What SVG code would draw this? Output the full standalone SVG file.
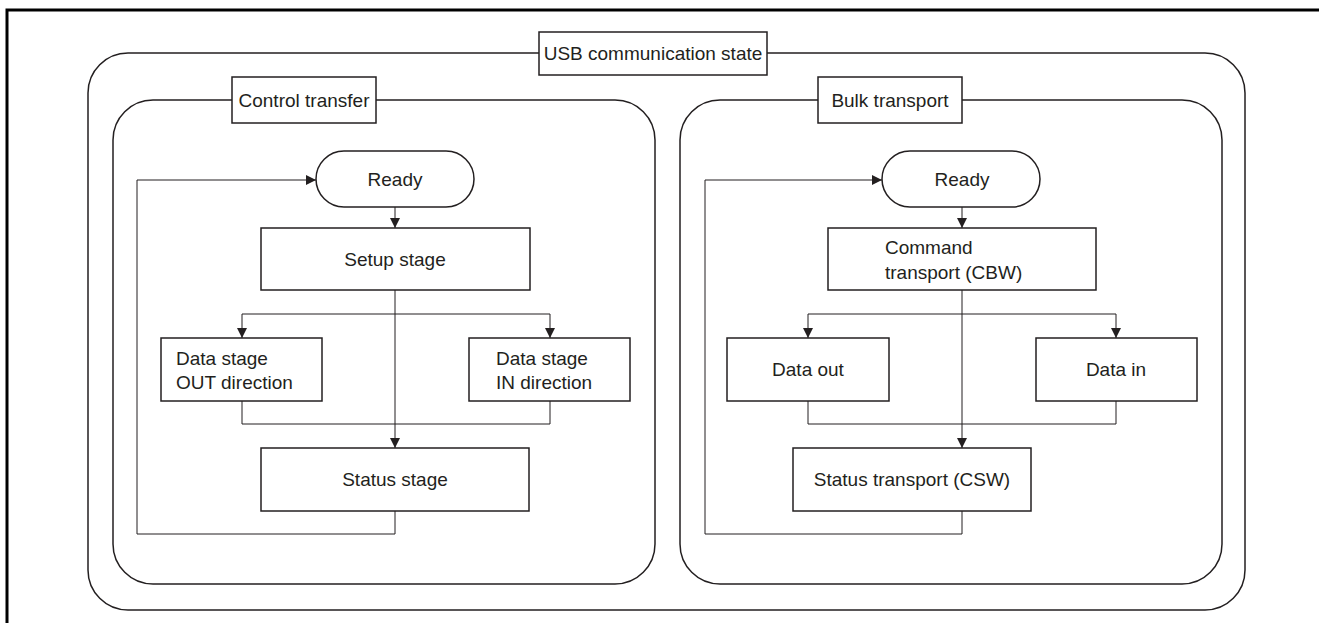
<svg xmlns="http://www.w3.org/2000/svg" width="1319" height="623" viewBox="0 0 1319 623">
<defs>
<style>
.frame{fill:none;stroke:#000;stroke-width:3}
.cont{fill:none;stroke:#231f20;stroke-width:1.5}
.box{fill:#fff;stroke:#231f20;stroke-width:1.5}
.ln{fill:none;stroke:#231f20;stroke-width:1}
.t{font-family:"Liberation Sans",Arial,sans-serif;font-size:19px;fill:#231f20}
.c{text-anchor:middle}
</style>
<marker id="ah" viewBox="0 0 10 10" refX="10" refY="5" markerWidth="10" markerHeight="10" markerUnits="userSpaceOnUse" orient="auto">
<path d="M0,0 L10,5 L0,10 z" fill="#231f20"/>
</marker>
</defs>
<rect width="1319" height="623" fill="#fff"/>
<g id="frame">
<path class="frame" d="M7,623 V10 H1319"/>
</g>
<g id="usb-state">
<rect class="cont" x="88" y="53" width="1157" height="557" rx="40" ry="40"/>
<rect class="box" x="539" y="32" width="228" height="43"/>
<text class="t c" x="653" y="60">USB communication state</text>
</g>
<g id="control-transfer">
<rect class="cont" x="113" y="100" width="542" height="484" rx="40" ry="40"/>
<rect class="box" x="232" y="77" width="144" height="46"/>
<text class="t c" x="304" y="107">Control transfer</text>
</g>
<g id="bulk-transport">
<rect class="cont" x="680" y="100" width="542" height="484" rx="40" ry="40"/>
<rect class="box" x="818" y="77" width="144" height="46"/>
<text class="t c" x="890" y="107">Bulk transport</text>
</g>
<g id="connectors">
<path class="ln" d="M395,207 V228" marker-end="url(#ah)"/>
<path class="ln" d="M395,290 V448" marker-end="url(#ah)"/>
<path class="ln" d="M242,314 H550"/>
<path class="ln" d="M242,314 V338" marker-end="url(#ah)"/>
<path class="ln" d="M550,314 V338" marker-end="url(#ah)"/>
<path class="ln" d="M242,401 V424 H550 V401"/>
<path class="ln" d="M395,511 V534 H137 V180 H316" marker-end="url(#ah)"/>
<path class="ln" d="M962,207 V228" marker-end="url(#ah)"/>
<path class="ln" d="M962,290 V448" marker-end="url(#ah)"/>
<path class="ln" d="M808,314 H1116"/>
<path class="ln" d="M808,314 V338" marker-end="url(#ah)"/>
<path class="ln" d="M1116,314 V338" marker-end="url(#ah)"/>
<path class="ln" d="M808,401 V424 H1116 V401"/>
<path class="ln" d="M962,511 V534 H705 V180 H882" marker-end="url(#ah)"/>
</g>
<g id="ct-ready">
<rect class="box" x="316" y="151" width="158" height="56" rx="28" ry="28"/>
<text class="t c" x="395" y="186">Ready</text>
</g>
<g id="ct-setup">
<rect class="box" x="261" y="228" width="269" height="62"/>
<text class="t c" x="395" y="266">Setup stage</text>
</g>
<g id="ct-data-out">
<rect class="box" x="161" y="338" width="161" height="63"/>
<text class="t" x="176" y="365">Data stage</text>
<text class="t" x="176" y="389">OUT direction</text>
</g>
<g id="ct-data-in">
<rect class="box" x="469" y="338" width="161" height="63"/>
<text class="t" x="496" y="365">Data stage</text>
<text class="t" x="496" y="389">IN direction</text>
</g>
<g id="ct-status">
<rect class="box" x="261" y="448" width="268" height="63"/>
<text class="t c" x="395" y="486">Status stage</text>
</g>
<g id="bt-ready">
<rect class="box" x="882" y="151" width="158" height="56" rx="28" ry="28"/>
<text class="t c" x="962" y="186">Ready</text>
</g>
<g id="bt-command">
<rect class="box" x="828" y="228" width="268" height="62"/>
<text class="t" x="885" y="254">Command</text>
<text class="t" x="885" y="279">transport (CBW)</text>
</g>
<g id="bt-data-out">
<rect class="box" x="727" y="338" width="162" height="63"/>
<text class="t c" x="808" y="376">Data out</text>
</g>
<g id="bt-data-in">
<rect class="box" x="1036" y="338" width="161" height="63"/>
<text class="t c" x="1116" y="376">Data in</text>
</g>
<g id="bt-status">
<rect class="box" x="793" y="448" width="238" height="63"/>
<text class="t c" x="912" y="486">Status transport (CSW)</text>
</g>
</svg>
